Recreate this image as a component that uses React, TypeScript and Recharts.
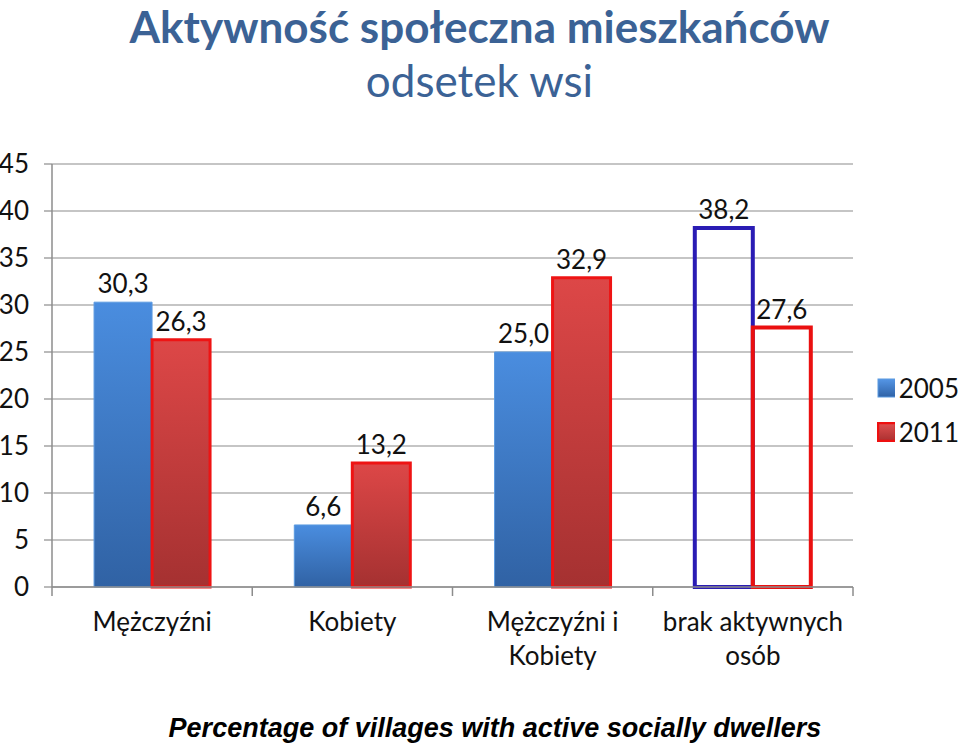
import React from 'react';
import { BarChart, Bar, XAxis, YAxis, CartesianGrid, LabelList, Legend, Cell } from 'recharts';

const categories = ['Mężczyźni', 'Kobiety', 'Mężczyźni i\nKobiety', 'brak aktywnych\nosób'];
const values2005 = [30.3, 6.6, 25.0, 38.2];
const values2011 = [26.3, 13.2, 32.9, 27.6];
const outlined = [false, false, false, true];
const yTicks = [0, 5, 10, 15, 20, 25, 30, 35, 40, 45];
const seriesNames = ['2005', '2011'];

const data = categories.map((c, i) => ({
  name: c,
  v2005: values2005[i],
  v2011: values2011[i],
  outlined: outlined[i],
}));

const FONT = 'Lato, "Open Sans", sans-serif';
const fmt = (v: any) => Number(v).toFixed(1).replace('.', ',');

const CategoryTick = (props: any) => {
  const { x, y, payload, index } = props;
  const half = payload && payload.offset ? payload.offset : 100;
  const lines = String(payload.value).split('\n');
  return (
    <g>
      {index === 0 && <line x1={x - half} x2={x - half} y1={y} y2={y + 9} stroke="#8c8c8c" strokeWidth={1.5} />}
      <line x1={x + half} x2={x + half} y1={y} y2={y + 9} stroke="#8c8c8c" strokeWidth={1.5} />
      <text x={x} y={y + 44} textAnchor="middle" fontSize={26} fill="#111" fontFamily={FONT}>
        {lines.map((l, i) => (
          <tspan key={i} x={x} dy={i === 0 ? 0 : 34}>{l}</tspan>
        ))}
      </text>
    </g>
  );
};

const LegendContent = () => {
  const items = [
    { label: seriesNames[0], fill: 'url(#legBlue)', stroke: '#5b9ae0' },
    { label: seriesNames[1], fill: 'url(#legRed)', stroke: '#ee1010' },
  ];
  return (
    <div style={{ fontFamily: FONT }}>
      {items.map((it, i) => (
        <div key={i} style={{ display: 'flex', alignItems: 'center', height: 44 }}>
          <svg width={20} height={20} style={{ marginRight: 4 }}>
            <defs>
              <linearGradient id="legBlue" x1="0" y1="0" x2="0" y2="1">
                <stop offset="0%" stopColor="#5596e6" />
                <stop offset="100%" stopColor="#2f62a6" />
              </linearGradient>
              <linearGradient id="legRed" x1="0" y1="0" x2="0" y2="1">
                <stop offset="0%" stopColor="#e05050" />
                <stop offset="100%" stopColor="#aa3030" />
              </linearGradient>
            </defs>
            <rect x={1} y={1} width={18} height={18} fill={it.fill} stroke={it.stroke} strokeWidth={i === 1 ? 2.5 : 1} />
          </svg>
          <span style={{ fontSize: 26, color: '#111' }}>{it.label}</span>
        </div>
      ))}
    </div>
  );
};

export default function App() {
  return (
    <div style={{ position: 'absolute', left: 0, top: 0, width: 959, height: 744, background: '#fff', fontFamily: FONT }}>
      <div style={{ position: 'absolute', left: 2, top: 0, width: 955, textAlign: 'center', color: '#3b6295', fontWeight: 700, fontSize: 44, lineHeight: 'normal', whiteSpace: 'nowrap' }}>
        Aktywność społeczna mieszkańców
      </div>
      <div style={{ position: 'absolute', left: 2, top: 54, width: 955, textAlign: 'center', color: '#3b6295', fontWeight: 400, fontSize: 44, lineHeight: 'normal' }}>
        odsetek wsi
      </div>
      <BarChart
        width={959}
        height={744}
        data={data}
        margin={{ top: 164, right: 106, left: 0, bottom: 77 }}
        barCategoryGap="21%"
        barGap={0}
      >
        <defs>
          <linearGradient id="gBlue" x1="0" y1="0" x2="0" y2="1">
            <stop offset="0%" stopColor="#4a8ddf" />
            <stop offset="100%" stopColor="#3062a4" />
          </linearGradient>
          <linearGradient id="gRed" x1="0" y1="0" x2="0" y2="1">
            <stop offset="0%" stopColor="#dd4747" />
            <stop offset="100%" stopColor="#a53131" />
          </linearGradient>
        </defs>
        <CartesianGrid vertical={false} stroke="#8c8c8c" strokeWidth={1.2} />
        <XAxis
          dataKey="name"
          height={80}
          tickLine={false}
          tickSize={0}
          tickMargin={0}
          axisLine={{ stroke: '#8c8c8c', strokeWidth: 1.5 }}
          tick={<CategoryTick />}
          interval={0}
        />
        <YAxis
          width={52}
          domain={[0, 45]}
          ticks={yTicks}
          interval={0}
          tickSize={8}
          tickMargin={15}
          tickLine={{ stroke: '#8c8c8c', strokeWidth: 1.2 }}
          axisLine={{ stroke: '#8c8c8c', strokeWidth: 1.5 }}
          tick={{ fontSize: 26, fill: '#111', fontFamily: FONT }}
        />
        <Legend
          layout="vertical"
          align="center"
          verticalAlign="middle"
          content={<LegendContent />}
          wrapperStyle={{ position: 'absolute', left: 877, top: 366, width: 82 }}
        />
        <Bar dataKey="v2005" name={seriesNames[0]} isAnimationActive={false}>
          {data.map((d, i) => (
            <Cell
              key={i}
              fill={d.outlined ? 'none' : 'url(#gBlue)'}
              stroke={d.outlined ? '#2a1cb4' : '#5b9ae0'}
              strokeWidth={d.outlined ? 4 : 1}
            />
          ))}
          <LabelList dataKey="v2005" position="top" offset={9} formatter={fmt} fill="#111" fontSize={26} fontFamily={FONT} />
        </Bar>
        <Bar dataKey="v2011" name={seriesNames[1]} isAnimationActive={false}>
          {data.map((d, i) => (
            <Cell
              key={i}
              fill={d.outlined ? 'none' : 'url(#gRed)'}
              stroke={d.outlined ? '#ea1010' : '#ee1414'}
              strokeWidth={d.outlined ? 4 : 3}
            />
          ))}
          <LabelList dataKey="v2011" position="top" offset={9} formatter={fmt} fill="#111" fontSize={26} fontFamily={FONT} />
        </Bar>
      </BarChart>
      <div style={{ position: 'absolute', left: 0, top: 713, width: 990, textAlign: 'center', fontFamily: '"Liberation Sans", Arial, sans-serif', fontWeight: 700, fontStyle: 'italic', fontSize: 27, lineHeight: '30px', color: '#000' }}>
        Percentage of villages with active socially dwellers
      </div>
    </div>
  );
}
